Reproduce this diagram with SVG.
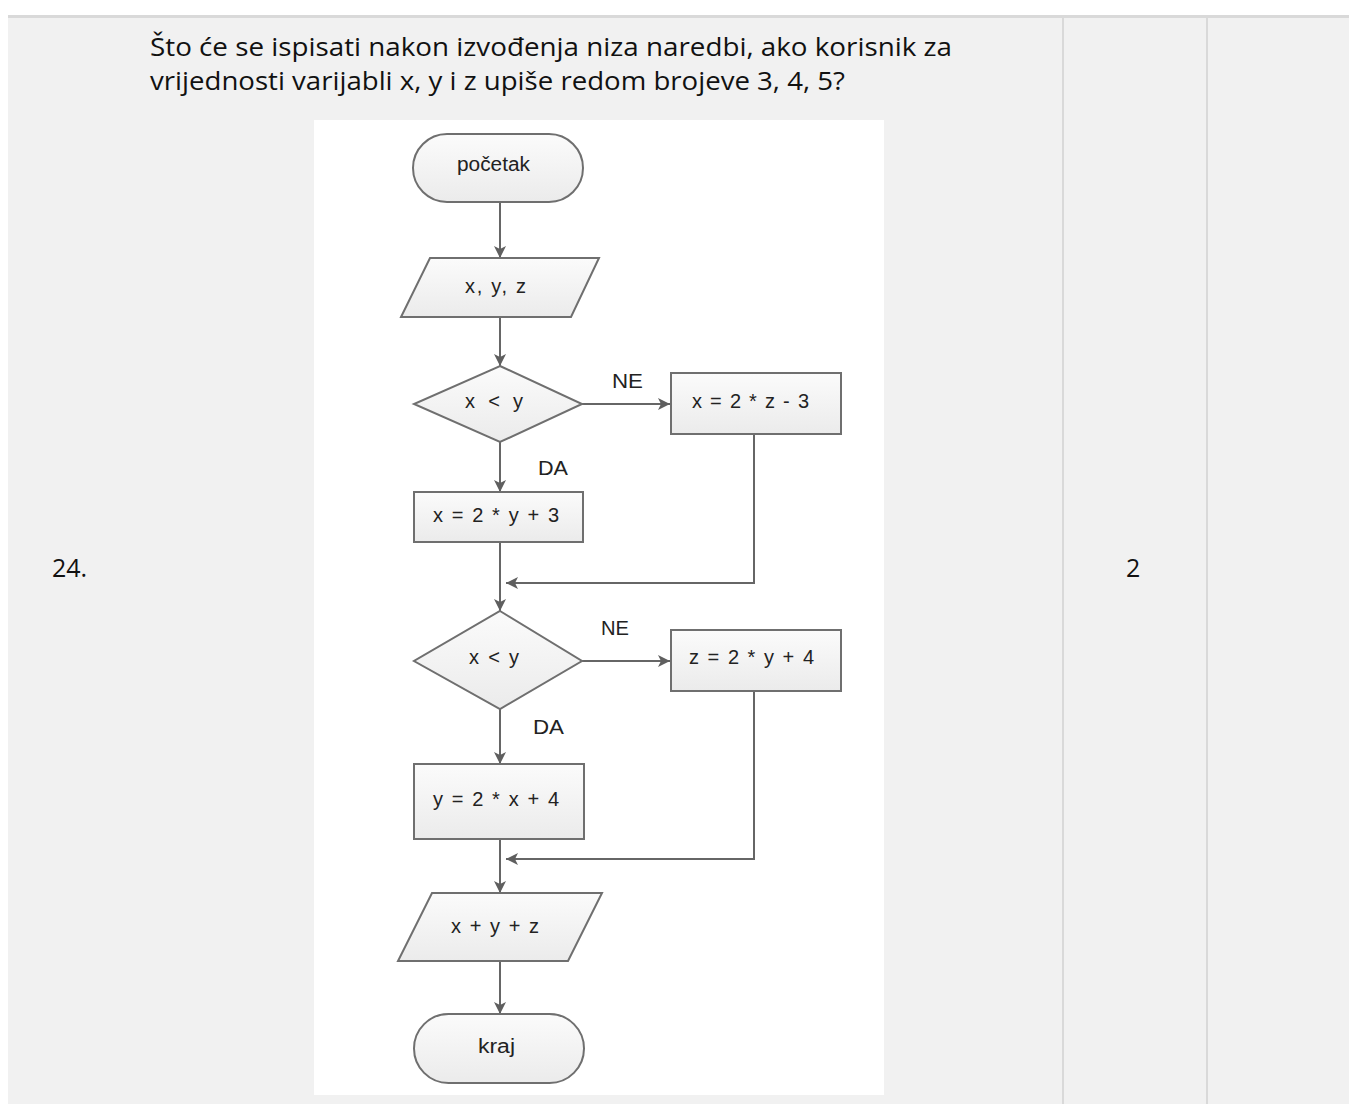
<svg xmlns="http://www.w3.org/2000/svg" width="1349" height="1104" viewBox="0 0 1349 1104">
<defs>
<linearGradient id="g" x1="0" y1="0" x2="0" y2="1">
<stop offset="0" stop-color="#fbfbfb"/>
<stop offset="1" stop-color="#ebebeb"/>
</linearGradient>
<marker id="ah" viewBox="0 0 12 12" refX="12" refY="6" markerWidth="12" markerHeight="12" markerUnits="userSpaceOnUse" orient="auto">
<path d="M0,0 L12,6 L0,12 L3,6 Z" fill="#5f5f5f"/>
</marker>
<style>
.shape{fill:url(#g);stroke:#6f6f6f;stroke-width:2}
.fl{font-family:"Liberation Sans",Arial,sans-serif;font-size:20px;fill:#222;text-anchor:start}
.conn{fill:none;stroke:#666;stroke-width:2}
.doc{font-family:"Open Sans","Noto Sans",sans-serif;font-size:25px;fill:#111}
</style>
</defs>
<rect x="0" y="0" width="1349" height="1104" fill="#ffffff"/>
<rect x="8" y="18" width="1341" height="1086" fill="#f1f1f1"/>
<rect x="8" y="15" width="1341" height="3" fill="#d9d9d9"/>
<rect x="1062" y="18" width="2" height="1086" fill="#d9d9d9"/>
<rect x="1206" y="18" width="2" height="1086" fill="#d9d9d9"/>
<rect x="314" y="120" width="570" height="975" fill="#ffffff"/>

<g id="question">
<text class="doc" x="150" y="56" textLength="802" lengthAdjust="spacingAndGlyphs">Što će se ispisati nakon izvođenja niza naredbi, ako korisnik za</text>
<text class="doc" x="150" y="90" textLength="695" lengthAdjust="spacingAndGlyphs">vrijednosti varijabli x, y i z upiše redom brojeve 3, 4, 5?</text>
</g>
<g id="num"><text class="doc" x="52" y="577">24.</text></g>
<g id="points"><text class="doc" x="1126" y="577">2</text></g>

<g id="connectors">
<line class="conn" x1="500" y1="202" x2="500" y2="258" marker-end="url(#ah)"/>
<line class="conn" x1="500" y1="317" x2="500" y2="366" marker-end="url(#ah)"/>
<line class="conn" x1="582" y1="404" x2="670" y2="404" marker-end="url(#ah)"/>
<line class="conn" x1="500" y1="442" x2="500" y2="492" marker-end="url(#ah)"/>
<polyline class="conn" points="754,434 754,583 506,583" marker-end="url(#ah)"/>
<line class="conn" x1="500" y1="542" x2="500" y2="611" marker-end="url(#ah)"/>
<line class="conn" x1="582" y1="661" x2="670" y2="661" marker-end="url(#ah)"/>
<line class="conn" x1="500" y1="709" x2="500" y2="764" marker-end="url(#ah)"/>
<polyline class="conn" points="754,691 754,859 506,859" marker-end="url(#ah)"/>
<line class="conn" x1="500" y1="839" x2="500" y2="893" marker-end="url(#ah)"/>
<line class="conn" x1="500" y1="961" x2="500" y2="1014" marker-end="url(#ah)"/>
<text class="fl" x="612" y="388" textLength="31" lengthAdjust="spacingAndGlyphs">NE</text>
<text class="fl" x="538" y="475" textLength="30" lengthAdjust="spacingAndGlyphs">DA</text>
<text class="fl" x="601" y="635" textLength="28" lengthAdjust="spacingAndGlyphs">NE</text>
<text class="fl" x="533" y="734" textLength="31" lengthAdjust="spacingAndGlyphs">DA</text>
</g>

<g id="start">
<rect class="shape" x="413" y="134" width="170" height="68" rx="34"/>
<text class="fl" x="457" y="171" textLength="73" lengthAdjust="spacingAndGlyphs">početak</text>
</g>
<g id="input">
<polygon class="shape" points="430,258 599,258 571,317 401,317"/>
<text class="fl" x="465" y="293" textLength="61" lengthAdjust="spacing">x, y, z</text>
</g>
<g id="cond1">
<polygon class="shape" points="500,366 582,404 500,442 414,404"/>
<text class="fl" x="465" y="408" textLength="58" lengthAdjust="spacing">x  &lt; y</text>
</g>
<g id="assign1">
<rect class="shape" x="671" y="373" width="170" height="61"/>
<text class="fl" x="692" y="408" textLength="117" lengthAdjust="spacing">x = 2 * z - 3</text>
</g>
<g id="assign2">
<rect class="shape" x="414" y="492" width="169" height="50"/>
<text class="fl" x="433" y="522" textLength="126" lengthAdjust="spacing">x = 2 * y + 3</text>
</g>
<g id="cond2">
<polygon class="shape" points="500,611 582,661 500,709 414,661"/>
<text class="fl" x="469" y="664" textLength="50" lengthAdjust="spacing">x &lt; y</text>
</g>
<g id="assign3">
<rect class="shape" x="671" y="630" width="170" height="61"/>
<text class="fl" x="689" y="664" textLength="125" lengthAdjust="spacing">z = 2 * y + 4</text>
</g>
<g id="assign4">
<rect class="shape" x="414" y="764" width="170" height="75"/>
<text class="fl" x="433" y="806" textLength="126" lengthAdjust="spacing">y = 2 * x + 4</text>
</g>
<g id="output">
<polygon class="shape" points="432,893 602,893 568,961 398,961"/>
<text class="fl" x="451" y="933" textLength="88" lengthAdjust="spacing">x + y + z</text>
</g>
<g id="end">
<rect class="shape" x="414" y="1014" width="170" height="69" rx="34.5"/>
<text class="fl" x="478" y="1053" textLength="37" lengthAdjust="spacingAndGlyphs">kraj</text>
</g>
</svg>
